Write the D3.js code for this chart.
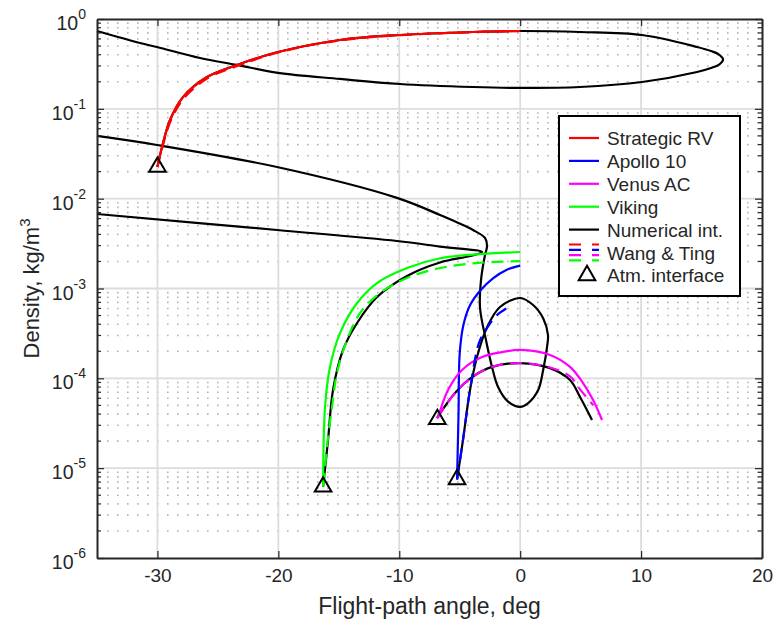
<!DOCTYPE html>
<html>
<head>
<meta charset="utf-8">
<script src="https://cdn.jsdelivr.net/npm/d3@7"></script>
<style>
body { margin: 0; background: #fff; }
text { font-family: "Liberation Sans", Arial, sans-serif; fill: #262626; }
</style>
</head>
<body>
<svg width="774" height="621"></svg>
<script>
// flight-path angle (deg) vs density (kg/m^3)
var gammaTicks = [-30, -20, -10, 0, 10, 20];
var rhoTickExps = [0, -1, -2, -3, -4, -5, -6];

var strategicRV = [[-30.0, 0.0225], [-29.85, 0.028], [-29.62, 0.0376], [-28.96, 0.0751], [-27.89, 0.135],
  [-25.9, 0.226], [-23.42, 0.308], [-20.03, 0.429], [-14.9, 0.584], [-9.94, 0.664], [-3.9, 0.717], [0, 0.735]];
var strategicRVWT = [[-30.0, 0.0225], [-29.85, 0.028], [-29.58, 0.038], [-28.88, 0.075], [-27.8, 0.132],
  [-25.8, 0.221], [-23.3, 0.303], [-20.0, 0.424], [-14.9, 0.578], [-9.9, 0.66], [-3.9, 0.715], [0, 0.735]];
var strategicNum = [[-30.0, 0.0225], [-29.85, 0.028], [-29.62, 0.0376], [-28.96, 0.0751], [-27.89, 0.135],
  [-25.9, 0.226], [-23.42, 0.308], [-20.03, 0.429], [-14.9, 0.584], [-9.94, 0.664], [-3.9, 0.717], [0, 0.735],
  [4.95, 0.717], [10.08, 0.664], [14.63, 0.488], [15.78, 0.44], [16.45, 0.402], [16.78, 0.354], [16.45, 0.311],
  [15.78, 0.285], [14.63, 0.257], [10.08, 0.199], [4.95, 0.175], [0, 0.171], [-3.9, 0.175], [-9.94, 0.189],
  [-14.9, 0.215], [-20.03, 0.251], [-23.42, 0.308], [-26.48, 0.368], [-30.04, 0.488], [-31.44, 0.54], [-35, 0.735]];

var apollo10 = [[-5.22, 7.5e-6], [-5.1, 4.0e-5], [-5.0, 1.9e-4], [-4.7, 3.9e-4], [-4.15, 6.5e-4],
  [-3.3, 9.5e-4], [-2.25, 1.3e-3], [-1.1, 1.62e-3], [0, 1.8e-3]];
var apollo10WT = [[-5.22, 7.5e-6], [-4.73, 2.06e-5], [-4.15, 7.41e-5], [-3.4, 2.5e-4], [-2.74, 3.63e-4],
  [-1.91, 5.07e-4], [-0.66, 6.55e-4]];
var apollo10Num = [[-5.22, 7.5e-6], [-4.73, 2.06e-5], [-4.15, 7.41e-5], [-3.57, 1.73e-4], [-2.74, 3.7e-4],
  [-1.67, 6.22e-4], [0, 7.84e-4], [1.07, 6.55e-4], [1.9, 4.66e-4], [2.3, 3.03e-4], [2.22, 2.23e-4],
  [1.9, 1.24e-4], [1.49, 7.41e-5], [0.66, 5.3e-5], [0, 4.8e-5], [-1.0, 5.5e-5], [-1.83, 8.0e-5],
  [-2.33, 1.34e-4], [-2.83, 2.67e-4], [-3.32, 6.07e-4], [-3.24, 1.24e-3], [-2.91, 2.36e-3], [-2.74, 2.95e-3],
  [-2.91, 3.65e-3], [-3.9, 4.48e-3], [-6.63, 6.58e-3], [-10.19, 0.0102], [-20.11, 0.0225], [-30.04, 0.0396],
  [-35, 0.0499]];

var venusAC = [[-6.8, 3.61e-5], [-5.97, 7.41e-5], [-4.81, 1.24e-4], [-3.16, 1.73e-4], [-1.5, 1.96e-4],
  [0, 2.07e-4], [2.47, 1.82e-4], [4.12, 1.34e-4], [5.2, 8.87e-5], [6.03, 5.74e-5], [6.77, 3.44e-5]];
var venusACWT = [[-6.88, 3.61e-5], [-5.39, 6.87e-5], [-3.98, 1.03e-4], [-2.33, 1.34e-4], [0, 1.48e-4],
  [2.47, 1.32e-4], [4.12, 1.05e-4], [5.0, 7.4e-5], [6.05, 5.0e-5]];
var venusACNum = [[-6.88, 3.61e-5], [-5.39, 6.87e-5], [-3.98, 1.03e-4], [-2.33, 1.34e-4], [0, 1.48e-4],
  [2.47, 1.30e-4], [4.12, 9.57e-5], [4.95, 6.19e-5], [5.94, 3.44e-5]];

var viking = [[-16.3, 6.2e-6], [-16.14, 4.8e-5], [-15.73, 1.34e-4], [-14.9, 3.19e-4], [-13.49, 6.89e-4],
  [-11.84, 1.15e-3], [-9.36, 1.69e-3], [-6.63, 2.17e-3], [-3.57, 2.4e-3], [0, 2.55e-3]];
var vikingWT = [[-16.25, 6.5e-6], [-15.98, 1.72e-5], [-15.56, 4.8e-5], [-15.15, 1.15e-4], [-14.32, 2.67e-4],
  [-13.25, 5.33e-4], [-11.59, 8.91e-4], [-9.36, 1.31e-3], [-6.63, 1.69e-3], [-3.57, 1.92e-3], [0, 2.02e-3]];
var vikingNum = [[-16.3, 6.2e-6], [-15.89, 2.06e-5], [-15.48, 7.41e-5], [-14.65, 2.07e-4], [-13.49, 4.13e-4],
  [-11.84, 8.04e-4], [-9.36, 1.38e-3], [-6.63, 1.95e-3], [-4.15, 2.3e-3], [-3.15, 2.55e-3], [-6.63, 2.93e-3],
  [-10.19, 3.38e-3], [-20.11, 4.48e-3], [-35, 6.75e-3]];

var atmInterface = [[-30.0, 0.0225], [-16.3, 6.2e-6], [-5.22, 7.5e-6], [-6.85, 3.5e-5]];

var legendNames = ["Strategic RV", "Apollo 10", "Venus AC", "Viking", "Numerical int.", "Wang & Ting", "Atm. interface"];
var legendColors = ["#ff0000", "#0000ff", "#ff00ff", "#00ff00", "#000000"];

var svg = d3.select("svg"),
  pLeft = 97, pRight = 762, pTop = 19, pBottom = 558;

var x = d3.scaleLinear().domain([-35, 20]).range([pLeft, pRight]);
var y = d3.scaleLog().domain([1e-6, 1]).range([pBottom, pTop]);

// grid: dotted minor rows, then solid major lines
var minorVals = [];
rhoTickExps.slice(1).forEach(function(e) {
  for (var m = 2; m <= 9; m++) minorVals.push(m * Math.pow(10, e));
});

var grid = svg.append("g");
grid.selectAll(".minor").data(minorVals).enter().append("line")
  .attr("x1", pLeft).attr("x2", pRight)
  .attr("y1", function(d) { return y(d); }).attr("y2", function(d) { return y(d); })
  .attr("stroke", "#b4b4b4").attr("stroke-width", 1.6).attr("stroke-dasharray", "1.6,8.4");
grid.selectAll(".majx").data(gammaTicks.slice(0, -1)).enter().append("line")
  .attr("x1", function(d) { return x(d); }).attr("x2", function(d) { return x(d); })
  .attr("y1", pTop).attr("y2", pBottom)
  .attr("stroke", "#dcdcdc").attr("stroke-width", 1.8);
grid.selectAll(".majy").data(rhoTickExps.slice(1, -1)).enter().append("line")
  .attr("x1", pLeft).attr("x2", pRight)
  .attr("y1", function(d) { return y(Math.pow(10, d)); }).attr("y2", function(d) { return y(Math.pow(10, d)); })
  .attr("stroke", "#dcdcdc").attr("stroke-width", 1.8);

// curves
var line = d3.line()
  .x(function(d) { return x(d[0]); })
  .y(function(d) { return y(d[1]); })
  .curve(d3.curveCatmullRom.alpha(0.5));

var series = [
  [strategicNum, "#000000", null], [apollo10Num, "#000000", null], [venusACNum, "#000000", null], [vikingNum, "#000000", null],
  [strategicRV, legendColors[0], null], [apollo10, legendColors[1], null], [venusAC, legendColors[2], null], [viking, legendColors[3], null],
  [strategicRVWT, legendColors[0], "12,7"], [apollo10WT, legendColors[1], "12,7"], [venusACWT, legendColors[2], "12,7"], [vikingWT, legendColors[3], "12,7"]
];

var plot = svg.append("g");
plot.selectAll("path").data(series).enter().append("path")
  .attr("d", function(d) { return line(d[0]); })
  .attr("fill", "none")
  .attr("stroke", function(d) { return d[1]; })
  .attr("stroke-width", 2.2)
  .attr("stroke-dasharray", function(d) { return d[2]; });

var tri = d3.symbol().type(d3.symbolTriangle).size(120);
plot.selectAll(".tri").data(atmInterface).enter().append("path")
  .attr("d", tri)
  .attr("transform", function(d) { return "translate(" + x(d[0]) + "," + y(d[1]) + ")"; })
  .attr("fill", "none").attr("stroke", "#000").attr("stroke-width", 2);

// axes (ticks point inward)
var ax = svg.append("g").attr("class", "axes");
var allY = rhoTickExps.map(function(e) { return Math.pow(10, e); });

ax.append("g").attr("transform", "translate(0," + pBottom + ")")
  .call(d3.axisBottom(x).tickValues(gammaTicks).tickSize(-7).tickSizeOuter(0).tickPadding(11)
    .tickFormat(function(d) { return d === 0 ? "0" : String(d); }));
ax.append("g").attr("transform", "translate(0," + pTop + ")")
  .call(d3.axisTop(x).tickValues(gammaTicks).tickSize(-7).tickSizeOuter(0).tickFormat(""));

[[pLeft, d3.axisLeft], [pRight, d3.axisRight]].forEach(function(s) {
  var g = ax.append("g").attr("transform", "translate(" + s[0] + ",0)");
  g.call(s[1](y).tickValues(allY).tickSize(-7).tickSizeOuter(0).tickFormat(""));
  g.selectAll(".mt").data(minorVals).enter().append("line")
    .attr("x1", 0).attr("x2", s[0] === pLeft ? 4 : -4)
    .attr("y1", function(d) { return y(d); }).attr("y2", function(d) { return y(d); })
    .attr("stroke", "#262626").attr("stroke-width", 1.2);
});
ax.selectAll(".domain").attr("stroke", "#262626").attr("stroke-width", 2);
ax.selectAll(".tick line").attr("stroke", "#262626").attr("stroke-width", 1.2);
ax.selectAll(".tick text").attr("font-size", 19).attr("fill", "#262626")
  .attr("font-family", "Liberation Sans, Arial, sans-serif");

// y tick labels 10^k
var yl = svg.append("g").selectAll("text").data(rhoTickExps).enter().append("text")
  .attr("x", pLeft - 11).attr("y", function(d) { return y(Math.pow(10, d)) + 11; })
  .attr("text-anchor", "end").attr("font-size", 19.5);
yl.append("tspan").text("10");
yl.append("tspan").attr("dy", -11).attr("font-size", 14).text(function(d) { return String(d); });

// axis titles
svg.append("text").attr("x", (pLeft + pRight) / 2).attr("y", 614)
  .attr("text-anchor", "middle").attr("font-size", 23).text("Flight-path angle, deg");
var ylab = svg.append("text").attr("transform", "translate(39," + (pTop + pBottom) / 2 + ") rotate(-90)")
  .attr("text-anchor", "middle").attr("font-size", 22);
ylab.append("tspan").text("Density, kg/m");
ylab.append("tspan").attr("dy", -9).attr("font-size", 15).text("3");

// legend
var lg = svg.append("g");
lg.append("rect").attr("x", 559).attr("y", 116).attr("width", 181).attr("height", 180)
  .attr("fill", "#fff").attr("stroke", "#000").attr("stroke-width", 2);
var rowY = function(i) { return 138 + i * 22.9; };
lg.selectAll(".lt").data(legendNames).enter().append("text")
  .attr("x", 607).attr("y", function(d, i) { return rowY(i) + 7; })
  .attr("font-size", 19).attr("fill", "#000").text(function(d) { return d; });
lg.selectAll(".ll").data(legendColors).enter().append("line")
  .attr("x1", 569).attr("x2", 599)
  .attr("y1", function(d, i) { return rowY(i); }).attr("y2", function(d, i) { return rowY(i); })
  .attr("stroke", function(d) { return d; }).attr("stroke-width", 2.2);
lg.selectAll(".ld").data(legendColors.slice(0, 4)).enter().append("line")
  .attr("x1", 569).attr("x2", 599)
  .attr("y1", function(d, i) { return rowY(5) - 8 + i * 5.3; }).attr("y2", function(d, i) { return rowY(5) - 8 + i * 5.3; })
  .attr("stroke", function(d) { return d; }).attr("stroke-width", 2.2).attr("stroke-dasharray", "12,11");
lg.append("path").attr("d", tri)
  .attr("transform", "translate(587," + rowY(6) + ")")
  .attr("fill", "none").attr("stroke", "#000").attr("stroke-width", 2);
</script>
</body>
</html>
